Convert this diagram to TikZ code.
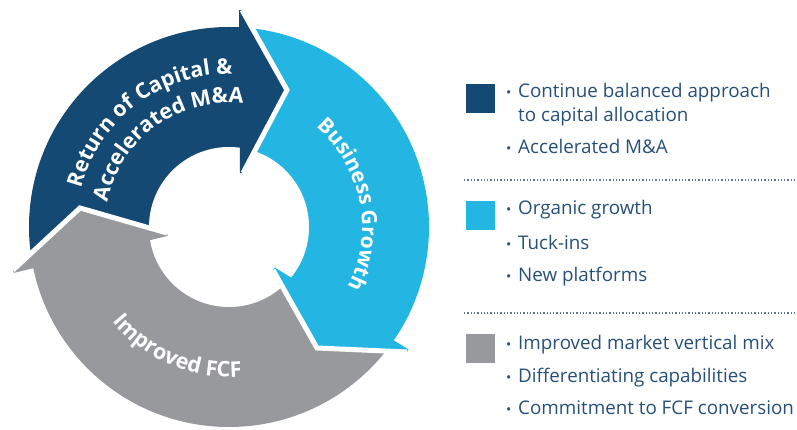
\documentclass[tikz,border=0pt]{standalone}
\usepackage{fontspec}
\setmainfont{Open Sans}
\usetikzlibrary{calc,decorations.text}
\definecolor{navy}{RGB}{20,73,116}
\definecolor{cyanb}{RGB}{36,182,226}
\definecolor{grayb}{RGB}{152,153,157}
\definecolor{legtxt}{RGB}{38,80,120}
\definecolor{dotc}{RGB}{100,115,140}
\begin{document}
\begin{tikzpicture}[x=1pt,y=1pt,
  legtext/.style={anchor=base west, inner sep=0pt, text=legtxt, font=\fontsize{18.8}{22}\selectfont},
  bulletmark/.style={anchor=base west, inner sep=0pt, text=legtxt, font=\fontsize{14}{16}\selectfont},
  keybox/.style={minimum width=29pt, minimum height=29pt, inner sep=0pt, anchor=south west},
  dotline/.style={dotc, line width=1.3pt, dash pattern=on 1.3pt off 2pt},
  gapline/.style={white, line width=5pt, line join=miter},
  arclabel/.style={decorate, decoration={text along path, text align=center, text={#1}}}]
\useasboundingbox (0,0) rectangle (797,430);
\coordinate (C) at (229,203);
\coordinate (DO) at (242,420); \coordinate (DT) at (287,340); \coordinate (DI) at (243,257);
\coordinate (BI) at (273,160); \coordinate (BT) at (317,82); \coordinate (BO) at (407,78);
\coordinate (GO) at (13,160); \coordinate (GT) at (80,222); \coordinate (GI) at (167,197);
% band bodies
\begin{scope}
\clip (C) circle[radius=200];
\fill[navy] (GI) -- ($(GI)!2!(GO)$) -- ($(C)+(135:400)$) -- ($(DI)!2!(DO)$) -- (DI) -- cycle;
\fill[cyanb] (DI) -- ($(DI)!2!(DO)$) -- ($(C)+(27:400)$) -- ($(BI)!2!(BO)$) -- (BI) -- cycle;
\fill[grayb] (BI) -- ($(BI)!2!(BO)$) -- ($(C)+(-100:400)$) -- ($(GI)!2!(GO)$) -- (GI) -- cycle;
\end{scope}
\fill[white] (C) circle[radius=80];
% arrowheads
\fill[navy] ($(DO)!3pt!-90:(DI)$) -- (DO) -- (DT) -- (DI) -- ($(DI)!3pt!90:(DO)$) -- cycle;
\draw[gapline] (DO) -- (DT) -- (DI);
\fill[cyanb] ($(BO)!3pt!-90:(BI)$) -- (BO) -- (BT) -- (BI) -- ($(BI)!3pt!90:(BO)$) -- cycle;
\draw[gapline] (BO) -- (BT) -- (BI);
\fill[grayb] ($(GO)!3pt!-90:(GI)$) -- (GO) -- (GT) -- (GI) -- ($(GI)!3pt!90:(GO)$) -- cycle;
\draw[gapline] (GO) -- (GT) -- (GI);
% curved labels
\path[arclabel={|\color{white}\bfseries\fontsize{21.5}{24}\selectfont|Return of Capital {\&}}]
  ($(C)+(190:153)$) arc[start angle=190, end angle=64, radius=153];
\path[arclabel={|\color{white}\bfseries\fontsize{21.5}{24}\selectfont|Accelerated M{\&}A}]
  ($(C)+(188:124)$) arc[start angle=188, end angle=64, radius=124];
\path[arclabel={|\color{white}\bfseries\fontsize{21}{24}\selectfont|Business Growth}]
  ($(C)+(81:133)$) arc[start angle=81, end angle=-59, radius=133];
\path[arclabel={|\color{white}\bfseries\fontsize{21.5}{24}\selectfont|Improved FCF}]
  ($(C)+(186:150)$) arc[start angle=186, end angle=308, radius=150];
% legend
\node[keybox, fill=navy] (k1) at (466,317) {};
\node[keybox, fill=cyanb] (k2) at (466,200) {};
\node[keybox, fill=grayb] (k3) at (466,67) {};
\node[bulletmark] (b1) at (506,332) {•};
\node[legtext] (t1) at (518,332) {Continue balanced approach};
\node[legtext] (t1b) at (518,308) {to capital allocation};
\node[bulletmark] (b2) at (506,276) {•};
\node[legtext] (t2) at (518,276) {Accelerated M\&A};
\coordinate (d1a) at (464,250); \coordinate (d1b) at (797,250);
\draw[dotline] (d1a) -- (d1b);
\node[bulletmark] (b3) at (506,215) {•};
\node[legtext] (t3) at (518,215) {Organic growth};
\node[bulletmark] (b4) at (506,180) {•};
\node[legtext] (t4) at (518,180) {Tuck-ins};
\node[bulletmark] (b5) at (506,148) {•};
\node[legtext] (t5) at (518,148) {New platforms};
\coordinate (d2a) at (464,117); \coordinate (d2b) at (797,117);
\draw[dotline] (d2a) -- (d2b);
\node[bulletmark] (b6) at (506,80) {•};
\node[legtext] (t6) at (518,80) {Improved market vertical mix};
\node[bulletmark] (b7) at (506,47) {•};
\node[legtext] (t7) at (518,47) {Differentiating capabilities};
\node[bulletmark] (b8) at (506,15) {•};
\node[legtext] (t8) at (518,15) {Commitment to FCF conversion};
\end{tikzpicture}
\end{document}
